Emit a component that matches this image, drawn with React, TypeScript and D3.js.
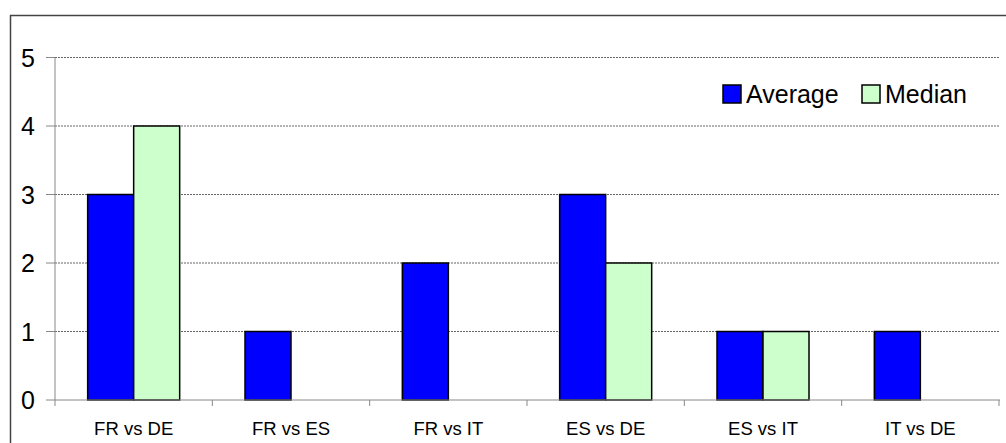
import React from "react";
import * as d3 from "d3";

const categories = ["FR vs DE", "FR vs ES", "FR vs IT", "ES vs DE", "ES vs IT", "IT vs DE"];
const averageValues = [3, 1, 2, 3, 1, 1];
const medianValues = [4, 0, 0, 2, 1, 0];
const seriesNames = ["Average", "Median"];
const seriesColors = ["#0000FF", "#CCFFCC"];
const yTicks = [0, 1, 2, 3, 4, 5];

export default function App() {
  const W = 1006, H = 443;
  const left = 55, right = 999, top = 57.5, bottom = 400;
  const x = d3.scaleBand<string>().domain(categories).range([left, right]).paddingInner(0).paddingOuter(0);
  const inner = d3.scaleBand<string>().domain(seriesNames).range([0, x.bandwidth()]).paddingInner(0).paddingOuter(0.71);
  const y = d3.scaleLinear().domain([0, 5]).range([bottom, top]);
  const series = [averageValues, medianValues];
  return (
    <svg width={W} height={H} style={{ position: "absolute", left: 0, top: 0 }} fontFamily="Liberation Sans, Arial, sans-serif">
      <rect x={0} y={0} width={W} height={H} fill="#fff" />
      <rect x={10.5} y={15.5} width={W + 20} height={H + 20} fill="none" stroke="#444" strokeWidth={1.5} />
      {yTicks.filter(t => t > 0).map(t => (
        <line key={"g" + t} x1={left} x2={right} y1={y(t)} y2={y(t)} stroke="#666" strokeWidth={1} strokeDasharray="2,1" />
      ))}
      {categories.map((c, i) =>
        series.map((vals, s) => {
          const v = vals[i];
          if (!v) return null;
          return (
            <rect key={c + s} x={x(c)! + inner(seriesNames[s])!} y={y(v)} width={inner.bandwidth()} height={y(0) - y(v)}
              fill={seriesColors[s]} stroke="#000" strokeWidth={1.5} />
          );
        })
      )}
      <line x1={left} x2={left} y1={top} y2={bottom} stroke="#888" strokeWidth={1} />
      <line x1={left} x2={right + 1} y1={bottom} y2={bottom} stroke="#888" strokeWidth={1} />
      {yTicks.map(t => (
        <g key={"t" + t}>
          <line x1={46} x2={left} y1={y(t)} y2={y(t)} stroke="#888" strokeWidth={1} />
          <text x={35} y={y(t)} dy="0.36em" textAnchor="end" fontSize={25} fill="#000">{t}</text>
        </g>
      ))}
      {[...categories.map(c => x(c)!), right].map((p, i) => (
        <line key={"xt" + i} x1={p} x2={p} y1={bottom} y2={bottom + 6} stroke="#888" strokeWidth={1} />
      ))}
      {categories.map(c => (
        <text key={"l" + c} x={x(c)! + x.bandwidth() / 2} y={435} textAnchor="middle" fontSize={18.5} fill="#000">{c}</text>
      ))}
      <g>
        <rect x={723} y={85} width={18} height={18} fill={seriesColors[0]} stroke="#000" strokeWidth={1.5} />
        <text x={746} y={103} fontSize={25} fill="#000">{seriesNames[0]}</text>
        <rect x={862} y={85} width={18} height={18} fill={seriesColors[1]} stroke="#000" strokeWidth={1.5} />
        <text x={885} y={103} fontSize={25} fill="#000">{seriesNames[1]}</text>
      </g>
    </svg>
  );
}
